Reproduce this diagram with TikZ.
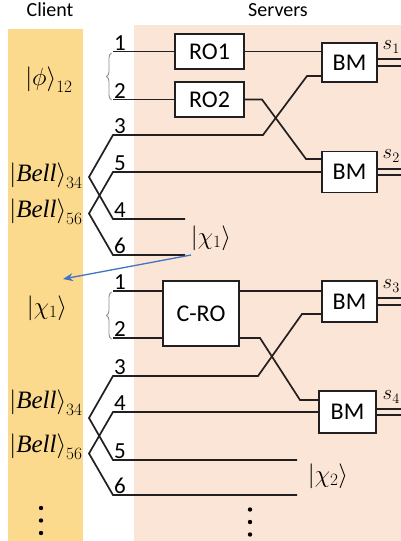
\documentclass[tikz,border=0pt]{standalone}
\usepackage{fontspec}
\setmainfont{Carlito}
\newfontfamily\tnr{Liberation Serif}
\usetikzlibrary{decorations.pathreplacing,arrows.meta}
\definecolor{clienty}{HTML}{FBD98D}
\definecolor{serverp}{HTML}{FBE5D6}
\definecolor{wirec}{HTML}{231F20}
\definecolor{arrowblue}{HTML}{4472C4}
\newcommand{\bellw}{\mbox{\tnr\itshape Bell}}
\begin{document}
\begin{tikzpicture}[x=1pt,y=-1pt,
  wire/.style={draw=wirec,line width=1.7pt},
  box/.style={draw=wirec,line width=1.7pt,fill=white,inner sep=0pt,font=\fontsize{24}{28}\selectfont},
  num/.style={anchor=south west,inner sep=0pt,xshift=1pt,yshift=1pt,font=\fontsize{23}{27}\selectfont},
  ket/.style={inner sep=0pt,font=\fontsize{25}{30}\selectfont},
  slab/.style={anchor=east,inner sep=0pt,font=\fontsize{22}{26}\selectfont},
  hdr/.style={inner sep=0pt,font=\fontsize{20}{24}\selectfont},
  brc/.style={decorate,decoration={brace,amplitude=5pt},draw=wirec!50,line width=0.9pt},
  dot/.style={fill=black},
]
\useasboundingbox (0,0) rectangle (401,541);
\fill[white] (0,0) rectangle (401,541);
\fill[clienty] (8,29) rectangle (83,541);
\fill[serverp] (134,25) rectangle (401,541);

% headers
\node[hdr] (hclient) at (50,10) {Client};
\node[hdr] (hservers) at (278,10) {Servers};

% ---------- first section ----------
\node[box,minimum width=69pt,minimum height=35pt] (RO1) at (209.5,51.5) {RO1};
\node[box,minimum width=69pt,minimum height=35pt] (RO2) at (209.5,99.5) {RO2};
\node[box,minimum width=55pt,minimum height=39pt] (BM1) at (349.5,62.5) {BM};
\node[box,minimum width=55pt,minimum height=41pt] (BM2) at (349.5,172) {BM};

\coordinate (a1) at (113,51.5);
\coordinate (a2) at (113,99.5);
\coordinate (a3) at (113,135);
\coordinate (a4) at (113,219);
\coordinate (a5) at (113,172);
\coordinate (a6) at (113,255);
\coordinate (e4) at (185,219);
\coordinate (e6) at (185,255);
\coordinate (v1) at (89,177);
\coordinate (v2) at (89,213.5);
\coordinate (x1) at (262,99.5);
\coordinate (x2) at (306,159);
\coordinate (y1) at (263,135);
\coordinate (y2) at (307,76);

\draw[wire] (a1) -- (RO1.west);
\draw[wire] (a2) -- (RO2.west);
\draw[wire] (RO1.east) -- (RO1.east -| BM1.west);
\draw[wire] (RO2.east) -- (x1) -- (x2) -- (x2 -| BM2.west);
\draw[wire] (y2 -| BM1.west) -- (y2) -- (y1) -- (a3) -- (v1) -- (a4) -- (e4);
\draw[wire] (a5 -| BM2.west) -- (a5) -- (v2) -- (a6) -- (e6);
\draw[wire] ([yshift=3.2pt]BM1.east) -- ++(30,0);
\draw[wire] ([yshift=-3.2pt]BM1.east) -- ++(30,0);
\draw[wire] ([yshift=3.2pt]BM2.east) -- ++(30,0);
\draw[wire] ([yshift=-3.2pt]BM2.east) -- ++(30,0);

\node[num] (n1a) at (a1) {1};
\node[num] (n2a) at (a2) {2};
\node[num] (n3a) at (a3) {3};
\node[num] (n4a) at (a4) {4};
\node[num] (n5a) at (a5) {5};
\node[num] (n6a) at (a6) {6};
\draw[brc] (111.5,100) -- (111.5,53);

\node[slab] (s1) at (400,47) {$s_1$};
\node[slab] (s2) at (400,156) {$s_2$};

\node[ket] (phi) at (49,80) {$\left|\phi\right\rangle_{12}$};
\node[ket] (bell34a) at (46,176) {$\left|\bellw\right\rangle_{34}$};
\node[ket] (bell56a) at (46,212) {$\left|\bellw\right\rangle_{56}$};
\node[ket] (chiS) at (211,238) {$\left|\chi_1\right\rangle$};
\node[ket] (chiC) at (47,308) {$\left|\chi_1\right\rangle$};

\coordinate (bs) at (191,255);
\coordinate (be) at (63,279);
\draw[arrowblue,line width=1.3pt,-{Stealth[length=10pt,width=8pt]}] (bs) -- (be);

% ---------- second section ----------
\node[box,minimum width=76pt,minimum height=65pt] (CRO) at (201,313.5) {C-RO};
\node[box,minimum width=55pt,minimum height=41pt] (BM3) at (349.5,301.5) {BM};
\node[box,minimum width=57pt,minimum height=42pt] (BM4) at (347.5,412) {BM};

\coordinate (b1) at (113,291);
\coordinate (b2) at (113,338);
\coordinate (b3) at (113,376);
\coordinate (b4) at (113,412);
\coordinate (b5) at (113,460);
\coordinate (b6) at (113,495);
\coordinate (f5) at (297,460);
\coordinate (f6) at (297,495);
\coordinate (v3) at (89,418);
\coordinate (v4) at (89,453.5);
\coordinate (z1) at (260,338);
\coordinate (z2) at (300,400);
\coordinate (w1) at (258,376);
\coordinate (w2) at (302,314);

\draw[wire] (b1) -- (b1 -| CRO.west);
\draw[wire] (b2) -- (b2 -| CRO.west);
\draw[wire] (CRO.east |- b1) -- (b1 -| BM3.west);
\draw[wire] (CRO.east |- b2) -- (z1) -- (z2) -- (z2 -| BM4.west);
\draw[wire] (w2 -| BM3.west) -- (w2) -- (w1) -- (b3) -- (v3) -- (b5) -- (f5);
\draw[wire] (b4 -| BM4.west) -- (b4) -- (v4) -- (b6) -- (f6);
\draw[wire] ([yshift=3.2pt]BM3.east) -- ++(30,0);
\draw[wire] ([yshift=-3.2pt]BM3.east) -- ++(30,0);
\draw[wire] ([yshift=3.2pt]BM4.east) -- ++(30,0);
\draw[wire] ([yshift=-3.2pt]BM4.east) -- ++(30,0);

\node[num] (n1b) at (b1) {1};
\node[num] (n2b) at (b2) {2};
\node[num] (n3b) at (b3) {3};
\node[num] (n4b) at (b4) {4};
\node[num] (n5b) at (b5) {5};
\node[num] (n6b) at (b6) {6};
\draw[brc] (111.5,339) -- (111.5,292);

\node[slab] (s3) at (400,286) {$s_3$};
\node[slab] (s4) at (400,397) {$s_4$};

\node[ket] (bell34b) at (46,403) {$\left|\bellw\right\rangle_{34}$};
\node[ket] (bell56b) at (46,447) {$\left|\bellw\right\rangle_{56}$};
\node[ket] (chi2) at (328,476) {$\left|\chi_2\right\rangle$};

% dots
\fill[dot] (41,508) circle (2.2);
\fill[dot] (41,520.5) circle (2.2);
\fill[dot] (41,533) circle (2.2);
\fill[dot] (250,509.5) circle (2.2);
\fill[dot] (250,522) circle (2.2);
\fill[dot] (250,534.5) circle (2.2);
\end{tikzpicture}
\end{document}
